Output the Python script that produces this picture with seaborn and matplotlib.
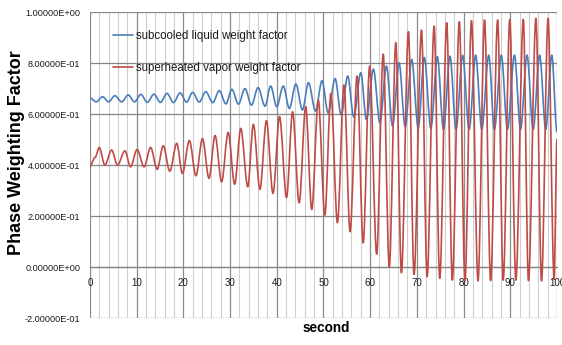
import numpy as np
import pandas as pd
import matplotlib
matplotlib.use("Agg")
import matplotlib.pyplot as plt
import seaborn as sns
from matplotlib.ticker import MultipleLocator, FuncFormatter
from matplotlib.path import Path
from matplotlib.patches import PathPatch
from matplotlib.lines import Line2D

# ---- data (turning points of the oscillations) ----
red_t = [0.0, 1.1, 2.0, 3.2, 4.65, 5.9, 7.5, 8.7, 10.1, 11.6, 13.0, 14.4, 15.7, 17.1,
         18.6, 19.8, 21.3, 22.7, 24.1, 25.5, 26.8, 28.2, 29.6, 31.0, 32.3, 33.8, 35.0,
         36.4, 37.8, 39.2, 40.6, 42.1, 43.4, 44.8, 46.2, 47.5, 48.9, 50.3, 51.6, 53.0,
         54.4, 55.7, 57.2, 58.5, 59.9, 61.4, 62.8, 64.1, 65.5, 66.7, 68.2, 69.4, 71.0,
         72.2, 73.7, 74.9, 76.4, 77.6, 79.1, 80.3, 81.7, 83.1, 84.5, 85.8, 87.3, 88.5,
         89.9, 91.2, 92.8, 93.9, 95.5, 96.7, 98.1, 99.4, 100.0]
red_v = [0.395, 0.430, 0.469, 0.400, 0.459, 0.400, 0.456, 0.393, 0.461, 0.393, 0.469,
         0.383, 0.476, 0.376, 0.485, 0.367, 0.496, 0.358, 0.504, 0.348, 0.516, 0.334,
         0.528, 0.325, 0.544, 0.315, 0.560, 0.305, 0.574, 0.289, 0.590, 0.273, 0.609,
         0.252, 0.629, 0.226, 0.655, 0.204, 0.681, 0.174, 0.714, 0.139, 0.749, 0.095,
         0.788, 0.051, 0.835, 0.001, 0.880, -0.022, 0.923, -0.029, 0.929, -0.038, 0.945,
         -0.044, 0.958, -0.051, 0.962, -0.054, 0.966, -0.054, 0.969, -0.053, 0.969,
         -0.051, 0.971, -0.051, 0.971, -0.053, 0.975, -0.054, 0.975, -0.048, 0.500]

blue_t = [0.0, 1.35, 2.7, 4.0, 5.35, 6.8, 8.2, 9.55, 10.9, 12.3, 13.7, 15.1, 16.5, 17.9,
          19.3, 20.7, 22.0, 23.4, 24.8, 26.3, 27.7, 29.1, 30.4, 31.8, 33.2, 34.6, 36.0,
          37.5, 38.7, 40.0, 41.4, 42.7, 44.1, 45.5, 46.8, 48.3, 49.7, 51.0, 52.5, 53.8,
          55.2, 56.5, 58.0, 59.2, 60.7, 62.1, 63.5, 64.8, 66.2, 67.5, 68.9, 70.3, 71.6,
          73.0, 74.4, 75.7, 77.1, 78.4, 79.8, 81.2, 82.6, 83.9, 85.4, 86.6, 88.1, 89.4,
          90.9, 92.2, 93.6, 94.9, 96.3, 97.6, 98.9, 100.0]
blue_v = [0.664, 0.648, 0.668, 0.648, 0.672, 0.648, 0.675, 0.648, 0.677, 0.646, 0.678,
          0.646, 0.681, 0.645, 0.683, 0.647, 0.685, 0.647, 0.688, 0.645, 0.692, 0.640,
          0.697, 0.639, 0.700, 0.635, 0.704, 0.631, 0.710, 0.629, 0.710, 0.622, 0.718,
          0.616, 0.723, 0.612, 0.731, 0.605, 0.739, 0.596, 0.749, 0.589, 0.762, 0.579,
          0.776, 0.566, 0.788, 0.553, 0.801, 0.550, 0.814, 0.546, 0.822, 0.544, 0.825,
          0.540, 0.827, 0.540, 0.830, 0.540, 0.831, 0.540, 0.831, 0.540, 0.831, 0.540,
          0.831, 0.540, 0.831, 0.540, 0.831, 0.540, 0.831, 0.531]

series_names = ["subcooled liquid weight factor", "superheated vapor weight factor"]
series_colors = ["#4A7EBB", "#BE4B48"]

x_ticks = [0, 10, 20, 30, 40, 50, 60, 70, 80, 90, 100]
y_ticks = [-0.2, 0.0, 0.2, 0.4, 0.6, 0.8, 1.0]

df = pd.concat([
    pd.DataFrame({"t": blue_t, "v": blue_v, "series": series_names[0]}),
    pd.DataFrame({"t": red_t, "v": red_v, "series": series_names[1]}),
], ignore_index=True)

# ---- figure ----
sns.set_theme(style="white")
plt.rcParams["font.family"] = ["Liberation Sans", "DejaVu Sans"]

fig = plt.figure(figsize=(5.62, 3.45), dpi=100)
ax = fig.add_axes([0.160, 0.078, 0.831, 0.887])

sns.lineplot(data=df, x="t", y="v", hue="series", hue_order=series_names,
             palette=series_colors, sort=False, estimator=None, linewidth=1.2,
             ax=ax, legend=False)


def smooth_path(ts, vs):
    # smoothed-line rendering between the read turning points (cubic Bezier)
    verts = [(ts[0], vs[0])]
    codes = [Path.MOVETO]
    for i in range(len(ts) - 1):
        t0, v0, t1, v1 = ts[i], vs[i], ts[i + 1], vs[i + 1]
        dt = t1 - t0
        verts += [(t0 + dt / 3, v0), (t1 - dt / 3, v1), (t1, v1)]
        codes += [Path.CURVE4] * 3
    return Path(verts, codes)


# replace the straight polylines drawn by seaborn with smoothed curves
handles = []
for line, name in zip(list(ax.get_lines()), series_names):
    col = line.get_color()
    xs, ys = line.get_xdata(), line.get_ydata()
    line.set_visible(False)
    patch = PathPatch(smooth_path(list(xs), list(ys)), facecolor="none",
                      edgecolor=col, linewidth=1.2, zorder=3, capstyle="round",
                      joinstyle="round")
    ax.add_patch(patch)
    handles.append(Line2D([], [], color=col, linewidth=1.2, label=name))

ax.set_xlim(0, 100)
ax.set_ylim(-0.2, 1.0)
ax.set_xticks(x_ticks)
ax.set_yticks(y_ticks)
ax.xaxis.set_minor_locator(MultipleLocator(2))
ax.yaxis.set_major_formatter(FuncFormatter(lambda v, p: f"{v:.5E}"))

ax.grid(which="major", axis="y", color="#868686", linewidth=0.9)
ax.grid(which="major", axis="x", color="#8c8c8c", linewidth=0.9)
ax.grid(which="minor", axis="x", color="#cfcfcf", linewidth=0.8)
ax.set_axisbelow(True)

for s in ["top", "right", "left"]:
    ax.spines[s].set_visible(False)
ax.spines["bottom"].set_position(("data", 0))
ax.spines["bottom"].set_color("#868686")
ax.spines["bottom"].set_linewidth(0.9)

ax.tick_params(axis="both", which="both", length=0, colors="#1a1a1a")
ax.tick_params(axis="x", labelsize=7, pad=8)
ax.tick_params(axis="y", labelsize=6.6, pad=7)

ax.set_xlabel("second", fontsize=9.8, fontweight="bold", color="black")
ax.set_ylabel("Phase Weighting Factor", fontsize=13, fontweight="bold", color="black")
ax.xaxis.set_label_coords(0.505, -0.008)
ax.yaxis.set_label_coords(-0.139, 0.541)
ax.xaxis.label.set_va("top")

leg = ax.legend(handles=handles, loc="upper left", bbox_to_anchor=(0.040, 0.957),
                frameon=False, fontsize=8.3, handlelength=1.75, handletextpad=0.2,
                labelspacing=1.75, borderaxespad=0)
for txt in leg.get_texts():
    txt.set_color("#1a1a1a")

fig.savefig("out.png", dpi=100)
